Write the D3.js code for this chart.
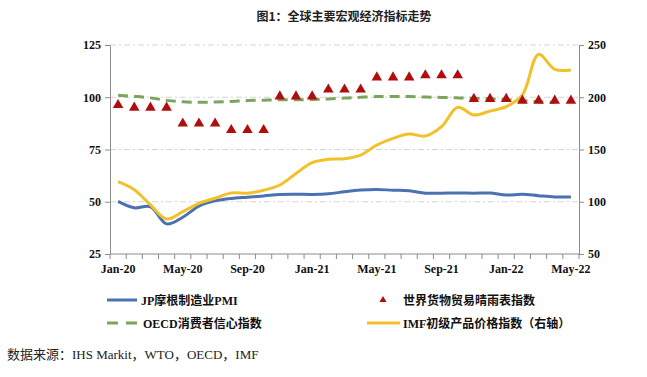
<!doctype html>
<html>
  <head>
    <meta charset="utf-8">
    <title>全球主要宏观经济指标走势</title>
    <script src="https://cdn.jsdelivr.net/npm/d3@7"></script>
    <style>
      body { margin: 0; background: #fff; }
      text { font-family: "Liberation Serif", "Noto Sans CJK SC", serif; }
    </style>
  </head>
  <body>
    <script>
      // 月份
      const months = ['Jan-20','Feb-20','Mar-20','Apr-20','May-20','Jun-20','Jul-20','Aug-20','Sep-20','Oct-20','Nov-20','Dec-20',
                      'Jan-21','Feb-21','Mar-21','Apr-21','May-21','Jun-21','Jul-21','Aug-21','Sep-21','Oct-21','Nov-21','Dec-21',
                      'Jan-22','Feb-22','Mar-22','Apr-22','May-22'];
      const xTickLabels = ['Jan-20','May-20','Sep-20','Jan-21','May-21','Sep-21','Jan-22','May-22'];

      // JP摩根制造业PMI（左轴）
      const pmi = [50.2, 47.1, 47.6, 39.4, 42.6, 47.9, 50.4, 51.6, 52.2, 52.8, 53.5, 53.6,
                   53.5, 53.8, 54.8, 55.6, 55.9, 55.5, 55.3, 54.1, 54.1, 54.2, 54.1, 54.2,
                   53.2, 53.6, 52.9, 52.3, 52.3];
      // 世界货物贸易晴雨表指数（左轴）
      const wto = [96.3, 95.0, 95.0, 95.0, 87.4, 87.4, 87.4, 84.3, 84.3, 84.3, 100.4, 100.4,
                   100.4, 103.7, 103.7, 103.7, 109.5, 109.5, 109.5, 110.5, 110.5, 110.5, 99.2, 99.2,
                   99.2, 98.4, 98.4, 98.4, 98.4];
      // OECD消费者信心指数（左轴）
      const oecd = [100.9, 100.4, 99.7, 98.5, 97.8, 97.6, 97.7, 98.0, 98.4, 98.6, 98.8, 98.8,
                    98.9, 99.2, 99.6, 100.0, 100.3, 100.4, 100.3, 100.1, 99.9, 99.7, 99.5, 99.3,
                    98.9, 98.4, 97.9, 97.5, null];
      // IMF初级产品价格指数（右轴）
      const imf = [119.2, 111.5, 97.0, 83.5, 90.5, 98.5, 103.3, 108.5, 108.2, 111.0, 116.0, 127.0,
                   137.4, 140.6, 141.2, 144.7, 154.3, 160.7, 164.8, 162.9, 171.8, 190.4, 183.0, 186.8,
                   191.0, 202.2, 241.0, 226.7, 226.1];

      const leftTicks = [25, 50, 75, 100, 125];
      const rightTicks = [50, 100, 150, 200, 250];

      const width = 647;
      const height = 377;
      const margin = { left: 110, right: 68, top: 45, bottom: 123 };
      const plotW = width - margin.left - margin.right;
      const plotH = height - margin.top - margin.bottom;

      const svg = d3.select('body').append('svg')
          .attr('width', width)
          .attr('height', height);

      // 标题
      svg.append('text')
          .attr('x', 344)
          .attr('y', 21)
          .attr('text-anchor', 'middle')
          .style('font-family', '"Noto Sans CJK SC", sans-serif')
          .style('font-size', '12px')
          .style('font-weight', 'bold')
          .attr('fill', '#222')
          .text('图1：全球主要宏观经济指标走势');

      const g = svg.append('g')
          .attr('transform', `translate(${margin.left},${margin.top})`);

      // 比例尺
      const x = d3.scaleBand().domain(months).range([0, plotW]);
      const xc = d => x(d) + x.bandwidth() / 2;
      const yL = d3.scaleLinear().domain([25, 125]).range([plotH, 0]);
      const yR = d3.scaleLinear().domain([50, 250]).range([plotH, 0]);

      // 网格线
      g.append('g')
        .selectAll('line')
        .data(leftTicks.slice(1))
        .enter().append('line')
          .attr('x1', 0)
          .attr('x2', plotW)
          .attr('y1', d => yL(d))
          .attr('y2', d => yL(d))
          .attr('stroke', '#d4d4d4')
          .attr('stroke-width', 1)
          .attr('stroke-dasharray', '6,3,2,3');

      // 坐标轴
      const axisStyle = sel => {
        sel.select('.domain').attr('stroke', '#8c8c8c');
        sel.selectAll('.tick line').attr('stroke', '#8c8c8c');
        sel.selectAll('.tick text')
            .attr('fill', '#111')
            .style('font-size', '12px')
            .style('font-weight', 'bold');
      };

      g.append('g')
          .call(d3.axisLeft(yL).tickValues(leftTicks).tickSize(5).tickSizeOuter(0).tickPadding(4))
          .call(axisStyle);

      g.append('g')
          .attr('transform', `translate(${plotW},0)`)
          .call(d3.axisRight(yR).tickValues(rightTicks).tickSize(5).tickSizeOuter(0).tickPadding(4))
          .call(axisStyle);

      // 底轴：每月一个刻度（分类边界），标签每四个月
      const xAxis = g.append('g')
          .attr('transform', `translate(0,${plotH})`);
      xAxis.append('line')
          .attr('x1', 0).attr('x2', plotW)
          .attr('stroke', '#8c8c8c');
      xAxis.selectAll('.mtick')
        .data(months.concat(['end']))
        .enter().append('line')
          .attr('class', 'mtick')
          .attr('x1', (d, i) => i * x.step())
          .attr('x2', (d, i) => i * x.step())
          .attr('y1', 0)
          .attr('y2', 5)
          .attr('stroke', '#8c8c8c');
      xAxis.selectAll('.mlabel')
        .data(xTickLabels)
        .enter().append('text')
          .attr('class', 'mlabel')
          .attr('x', d => xc(d))
          .attr('y', 19)
          .attr('text-anchor', 'middle')
          .attr('fill', '#111')
          .style('font-size', '12px')
          .style('font-weight', 'bold')
          .text(d => d);

      const curve = d3.curveCatmullRom.alpha(0.5);

      // OECD 虚线
      g.append('path')
          .datum(oecd)
          .attr('d', d3.line()
            .defined(d => d !== null)
            .x((d, i) => xc(months[i]))
            .y(d => yL(d))
            .curve(curve))
          .attr('fill', 'none')
          .attr('stroke', '#7ba55a')
          .attr('stroke-width', 3)
          .attr('stroke-dasharray', '10,6');

      // PMI
      g.append('path')
          .datum(pmi)
          .attr('d', d3.line()
            .x((d, i) => xc(months[i]))
            .y(d => yL(d))
            .curve(curve))
          .attr('fill', 'none')
          .attr('stroke', '#4a72b2')
          .attr('stroke-width', 3);

      // IMF（右轴）
      g.append('path')
          .datum(imf)
          .attr('d', d3.line()
            .x((d, i) => xc(months[i]))
            .y(d => yR(d))
            .curve(curve))
          .attr('fill', 'none')
          .attr('stroke', '#f2c12a')
          .attr('stroke-width', 3);

      // WTO 三角
      const tri = d3.symbol().type(d3.symbolTriangle).size(48);
      g.append('g')
        .selectAll('path')
        .data(wto)
        .enter().append('path')
          .attr('transform', (d, i) => `translate(${xc(months[i])},${yL(d)})`)
          .attr('d', tri)
          .attr('fill', '#b00e0e');

      // 图例
      const legend = svg.append('g');
      const lgText = (xx, yy, t) => legend.append('text')
          .attr('x', xx).attr('y', yy + 4.5)
          .attr('fill', '#111')
          .style('font-size', '12px')
          .style('font-weight', 'bold')
          .text(t);

      legend.append('line')
          .attr('x1', 107).attr('x2', 137).attr('y1', 300).attr('y2', 300)
          .attr('stroke', '#4a72b2').attr('stroke-width', 3);
      lgText(141, 300, 'JP摩根制造业PMI');

      legend.append('line')
          .attr('x1', 107).attr('x2', 137).attr('y1', 323).attr('y2', 323)
          .attr('stroke', '#7ba55a').attr('stroke-width', 3)
          .attr('stroke-dasharray', '11,8');
      lgText(143, 323, 'OECD消费者信心指数');

      legend.append('path')
          .attr('transform', 'translate(383,300)')
          .attr('d', d3.symbol().type(d3.symbolTriangle).size(22))
          .attr('fill', '#b00e0e');
      lgText(403, 300, '世界货物贸易晴雨表指数');

      legend.append('line')
          .attr('x1', 367).attr('x2', 400).attr('y1', 323).attr('y2', 323)
          .attr('stroke', '#f2c12a').attr('stroke-width', 3);
      lgText(403, 323, 'IMF初级产品价格指数（右轴）');

      // 数据来源
      svg.append('text')
          .attr('x', 7)
          .attr('y', 359)
          .attr('fill', '#222')
          .style('font-size', '13px')
          .text('数据来源：IHS Markit，WTO，OECD，IMF');
    </script>
  </body>
</html>
